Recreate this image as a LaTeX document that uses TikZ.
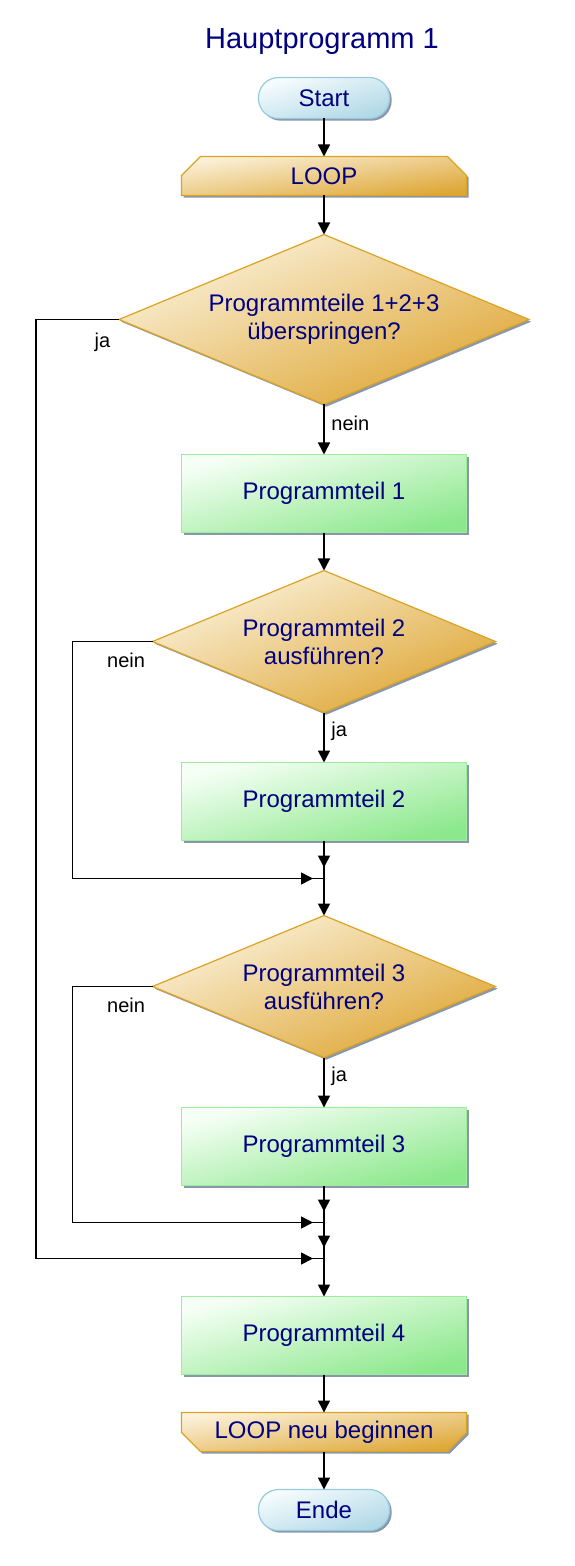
\documentclass[tikz,border=0pt]{standalone}
\usepackage{fontspec}
\setmainfont{Liberation Sans}
\usetikzlibrary{arrows.meta,positioning,shapes.geometric,shadows,decorations.markings,backgrounds}

\definecolor{navytext}{RGB}{0,0,128}
\definecolor{termtop}{RGB}{246,252,254}
\definecolor{termbot}{RGB}{176,216,230}
\definecolor{termline}{RGB}{150,202,222}
\definecolor{goldtop}{RGB}{251,242,220}
\definecolor{goldbot}{RGB}{222,166,52}
\definecolor{goldline}{RGB}{218,163,35}
\definecolor{greentop}{RGB}{246,255,246}
\definecolor{greenbot}{RGB}{140,232,140}
\definecolor{greenline}{RGB}{155,236,155}
\definecolor{shadowc}{RGB}{138,150,172}

\tikzset{
	base/.style={draw, line width=0.6pt, font=\fontsize{12}{14}\selectfont, text=navytext, align=center, inner sep=2pt,
		outer sep=0pt, drop shadow={shadow xshift=1.1pt, shadow yshift=-1.1pt, fill=shadowc, opacity=1}},
	terminal/.style={base, rectangle, rounded corners=10pt, minimum width=65.5pt, minimum height=20.5pt,
		draw=termline, top color=termtop, bottom color=termbot, shading angle=17},
	loopbox/.style={rectangle, font=\fontsize{12}{14}\selectfont, text=navytext, inner sep=2pt, outer sep=0pt,
		minimum width=142.5pt, minimum height=19.5pt},
	loopshape/.style={draw=goldline, line width=0.6pt, top color=goldtop, bottom color=goldbot, shading angle=8,
		drop shadow={shadow xshift=1.1pt, shadow yshift=-1.1pt, fill=shadowc, opacity=1}},
	decision/.style={base, diamond, aspect=2.41, inner sep=0pt,
		draw=goldline, top color=goldtop, bottom color=goldbot, shading angle=22.5},
	process/.style={base, rectangle, minimum width=142.5pt, minimum height=39pt,
		draw=greenline, top color=greentop, bottom color=greenbot, shading angle=15},
	title/.style={font=\fontsize{14.5}{17}\selectfont, text=navytext},
	lbl/.style={font=\fontsize{10}{12}\selectfont, text=black},
	line/.style={line width=0.8pt},
	arr/.style={line, -{Triangle[length=6pt,width=6pt]}},
	mergeline/.style={line, postaction={decorate}, decoration={markings,
		mark=at position -5.5pt with {\arrow{Triangle[length=6pt,width=6pt]}}}}
}

\begin{document}
\begin{tikzpicture}[x=0.5pt, y=-0.5pt, node distance=19pt]
	\useasboundingbox (0,0) rectangle (574,1566);

	\node[title]    (title) at (322,42)           {Hauptprogramm 1};
	\node[terminal] (start) at (324,98)           {Start};
	\node[loopbox]  (loop) [below=of start]       {LOOP};
	\node[decision, minimum width=205pt, minimum height=85pt] (d1) [below=19.5pt of loop] {Programmteile 1+2+3\\überspringen?};
	\node[process]  (p1) [below=25pt of d1]       {Programmteil 1};
	\node[decision, minimum width=171.5pt, minimum height=71pt] (d2) [below=of p1] {Programmteil 2\\ausführen?};
	\node[process]  (p2) [below=25pt of d2]       {Programmteil 2};
	\coordinate[below=of p2] (m2);
	\node[decision, minimum width=171.5pt, minimum height=71pt] (d3) [below=18.5pt of m2] {Programmteil 3\\ausführen?};
	\node[process]  (p3) [below=25pt of d3]       {Programmteil 3};
	\coordinate[below=18.5pt of p3] (m3);
	\coordinate[below=18pt of m3] (m4);
	\node[process]  (p4) [below=of m4]            {Programmteil 4};
	\node[loopbox]  (again) [below=of p4]         {LOOP neu beginnen};
	\node[terminal] (ende) [below=of again]       {Ende};

	\begin{scope}[on background layer]
		\path[loopshape] (loop.south west) -- ([yshift=-9.5pt]loop.north west) -- ([xshift=9.5pt]loop.north west)
			-- ([xshift=-9.5pt]loop.north east) -- ([yshift=-9.5pt]loop.north east) -- (loop.south east) -- cycle;
		\path[loopshape] (again.north west) -- (again.north east) -- ([yshift=9.5pt]again.south east)
			-- ([xshift=-9.5pt]again.south east) -- ([xshift=9.5pt]again.south west) -- ([yshift=9.5pt]again.south west) -- cycle;
	\end{scope}

	\draw[arr] (start) -- (loop);
	\draw[arr] (loop) -- (d1);
	\draw[arr] (d1) -- node[lbl, right, pos=0.38] {nein} (p1);
	\draw[arr] (p1) -- (d2);
	\draw[arr] (d2) -- node[lbl, right, pos=0.38] {ja} (p2);
	\draw[mergeline] (p2) -- (m2);
	\draw[mergeline] (d2.west) -- node[lbl, below=2pt, pos=0.33] {nein} ++(-40pt,0) |- (m2);
	\draw[arr] (m2) -- (d3);
	\draw[arr] (d3) -- node[lbl, right, pos=0.38] {ja} (p3);
	\draw[mergeline] (p3) -- (m3);
	\draw[mergeline] (d3.west) -- node[lbl, below=2pt, pos=0.33] {nein} ++(-40pt,0) |- (m3);
	\draw[mergeline] (m3) -- (m4);
	\draw[mergeline] (d1.west) -- node[lbl, below=3pt, pos=0.2] {ja} ++(-41.5pt,0) |- (m4);
	\draw[arr] (m4) -- (p4);
	\draw[arr] (p4) -- (again);
	\draw[arr] (again) -- (ende);
\end{tikzpicture}
\end{document}
